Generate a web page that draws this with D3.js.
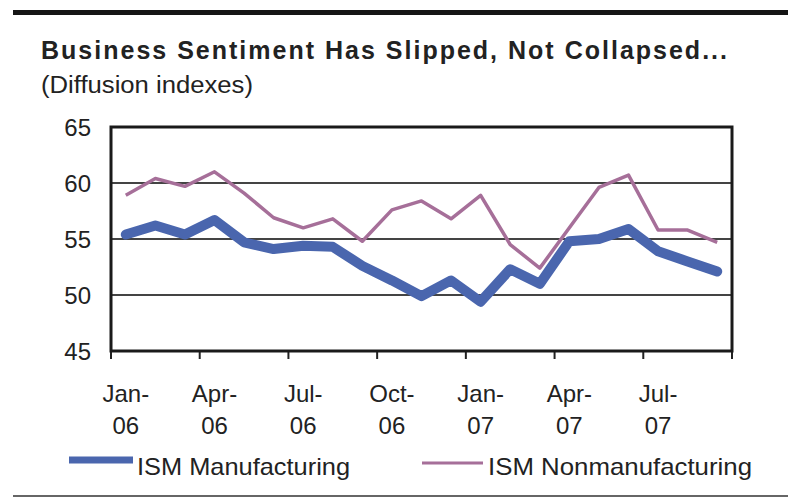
<!DOCTYPE html>
<html>
<head>
<meta charset="utf-8">
<script src="https://cdn.jsdelivr.net/npm/d3@7"></script>
<style>
  body { margin: 0; background: #fff; }
  svg { display: block; font-family: "Liberation Sans", Arial, sans-serif; }
  .grid line { stroke: #444; stroke-width: 2; }
  .tick-label { font-size: 24px; fill: #222; }
  .legend text { font-size: 24px; fill: #222; }
</style>
</head>
<body>
<svg width="788" height="498"></svg>
<script>
  // months Jan-06 .. Sep-07
  const months = ['Jan-06', 'Feb-06', 'Mar-06', 'Apr-06', 'May-06', 'Jun-06', 'Jul-06',
    'Aug-06', 'Sep-06', 'Oct-06', 'Nov-06', 'Dec-06', 'Jan-07', 'Feb-07', 'Mar-07',
    'Apr-07', 'May-07', 'Jun-07', 'Jul-07', 'Aug-07', 'Sep-07'];
  const manufacturing = [55.4, 56.2, 55.4, 56.7, 54.7, 54.1, 54.4, 54.3, 52.6, 51.3, 49.9,
    51.3, 49.4, 52.3, 51.0, 54.8, 55.0, 55.9, 53.9, 53.0, 52.1];
  const nonmanufacturing = [58.9, 60.4, 59.7, 61.0, 59.1, 56.9, 56.0, 56.8, 54.8, 57.6, 58.4,
    56.8, 58.9, 54.5, 52.4, 56.0, 59.6, 60.7, 55.8, 55.8, 54.7];
  const yTicks = [45, 50, 55, 60, 65];
  const seriesNames = ['ISM Manufacturing', 'ISM Nonmanufacturing'];

  const svg = d3.select('svg');
  const plot = {left: 111, right: 732, top: 127, bottom: 351};

  // header rule and titles
  svg.append('rect').attr('x', 13).attr('y', 10).attr('width', 775).attr('height', 5)
    .attr('fill', '#151515');
  svg.append('line').attr('x1', 13).attr('x2', 788).attr('y1', 496).attr('y2', 496)
    .attr('stroke', '#666').attr('stroke-width', 2);

  svg.append('text').attr('x', 41).attr('y', 59)
    .attr('font-size', 25).attr('font-weight', 'bold').attr('fill', '#222')
    .attr('textLength', 686).attr('lengthAdjust', 'spacing')
    .text('Business Sentiment Has Slipped, Not Collapsed...');
  svg.append('text').attr('x', 41).attr('y', 93)
    .attr('font-size', 23).attr('fill', '#222')
    .attr('textLength', 212).attr('lengthAdjust', 'spacingAndGlyphs')
    .text('(Diffusion indexes)');

  const x = d3.scaleBand().domain(months).range([plot.left, plot.right]).padding(0);
  const y = d3.scaleLinear().domain([45, 65]).range([plot.bottom, plot.top]);
  const cx = (d) => x(d) + x.bandwidth() / 2;

  // gridlines
  svg.append('g').attr('class', 'grid')
    .selectAll('line').data(yTicks.slice(1, -1)).enter().append('line')
    .attr('x1', plot.left).attr('x2', plot.right)
    .attr('y1', (d) => y(d)).attr('y2', (d) => y(d));

  // y labels
  svg.append('g').selectAll('text').data(yTicks).enter().append('text')
    .attr('class', 'tick-label')
    .attr('x', 91).attr('y', (d) => y(d)).attr('dy', '0.36em')
    .attr('text-anchor', 'end')
    .text((d) => d);

  // x tick marks every quarter
  const tickIdx = d3.range(0, months.length + 1, 3);
  svg.append('g').selectAll('line').data(tickIdx).enter().append('line')
    .attr('x1', (i) => plot.left + i * x.bandwidth())
    .attr('x2', (i) => plot.left + i * x.bandwidth())
    .attr('y1', plot.bottom).attr('y2', plot.bottom + 8)
    .attr('stroke', '#222').attr('stroke-width', 2);

  // x labels (two lines)
  const labelMonths = months.filter((m, i) => i % 3 === 0);
  const xl = svg.append('g').selectAll('text').data(labelMonths).enter().append('text')
    .attr('class', 'tick-label').attr('text-anchor', 'middle');
  xl.append('tspan').attr('x', (d) => cx(d)).attr('y', 402)
    .text((d) => d.split('-')[0] + '-');
  xl.append('tspan').attr('x', (d) => cx(d)).attr('y', 434)
    .text((d) => d.split('-')[1]);

  // plot frame
  svg.append('rect')
    .attr('x', plot.left).attr('y', plot.top)
    .attr('width', plot.right - plot.left).attr('height', plot.bottom - plot.top)
    .attr('fill', 'none').attr('stroke', '#1a1a1a').attr('stroke-width', 3);

  const line = d3.line()
    .x((d, i) => cx(months[i]))
    .y((d) => y(d));

  svg.append('path').datum(nonmanufacturing)
    .attr('d', line).attr('fill', 'none')
    .attr('stroke', '#a66f99').attr('stroke-width', 3.5)
    .attr('stroke-linejoin', 'round');

  svg.append('path').datum(manufacturing)
    .attr('d', line).attr('fill', 'none')
    .attr('stroke', '#4a66ae').attr('stroke-width', 10)
    .attr('stroke-linejoin', 'round').attr('stroke-linecap', 'round');

  // legend
  const legend = svg.append('g').attr('class', 'legend');
  legend.append('line').attr('x1', 69).attr('x2', 133).attr('y1', 460).attr('y2', 460)
    .attr('stroke', '#4a66ae').attr('stroke-width', 7);
  legend.append('text').attr('x', 137).attr('y', 475)
    .attr('textLength', 213).attr('lengthAdjust', 'spacingAndGlyphs')
    .text(seriesNames[0]);
  legend.append('line').attr('x1', 422).attr('x2', 483).attr('y1', 463).attr('y2', 463)
    .attr('stroke', '#a66f99').attr('stroke-width', 3);
  legend.append('text').attr('x', 488).attr('y', 475)
    .attr('textLength', 264).attr('lengthAdjust', 'spacingAndGlyphs')
    .text(seriesNames[1]);
</script>
</body>
</html>
